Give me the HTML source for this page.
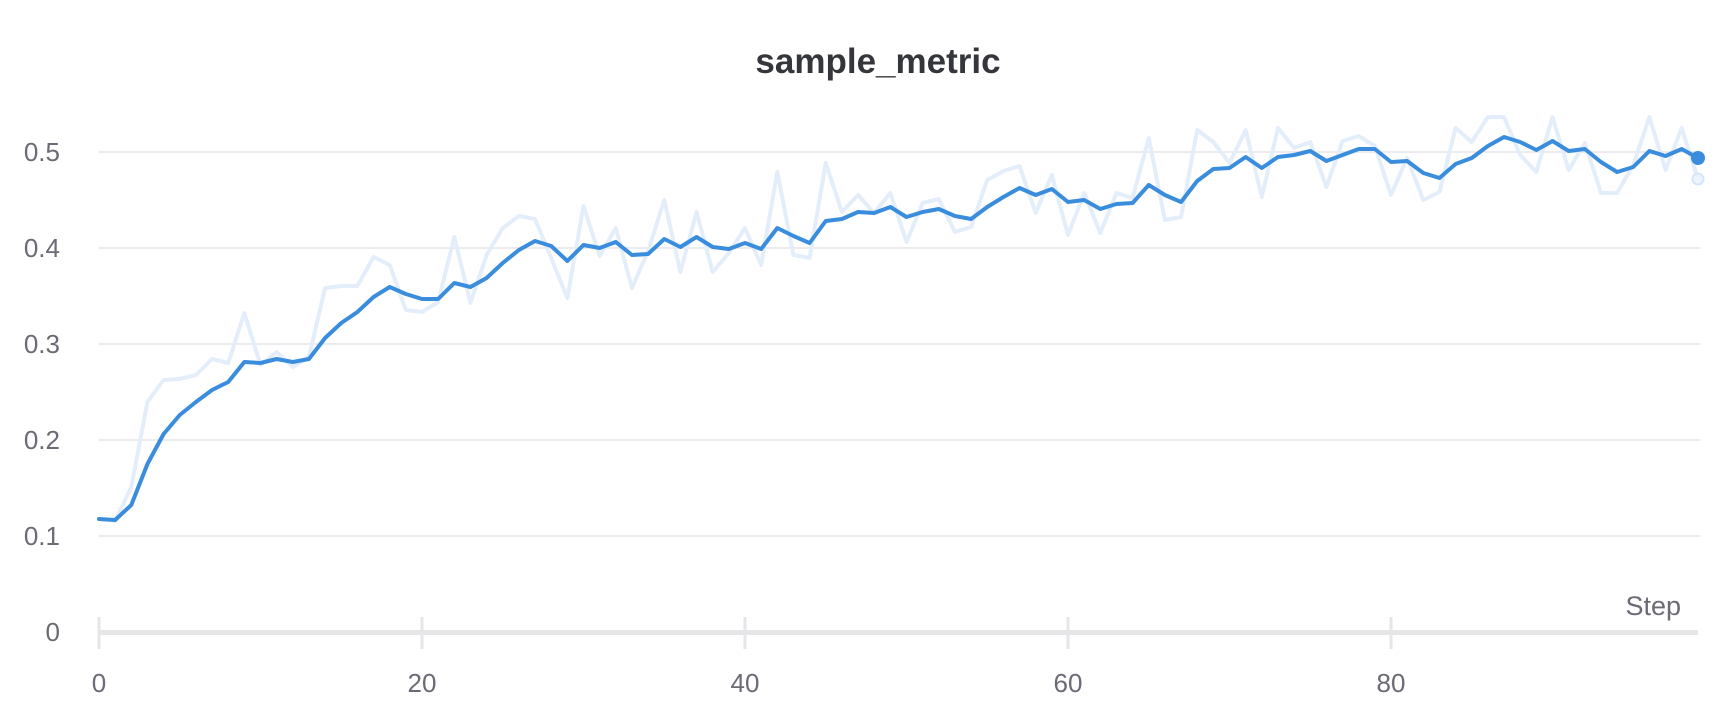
<!DOCTYPE html>
<html>
<head>
<meta charset="utf-8">
<style>
  html, body { margin:0; padding:0; background:#ffffff; }
  body { width:1724px; height:722px; overflow:hidden; }
  svg { display:block; }
  text { font-family: "Liberation Sans", "DejaVu Sans", sans-serif; }
</style>
</head>
<body>
<svg width="1724" height="722" viewBox="0 0 1724 722" xmlns="http://www.w3.org/2000/svg">
  <!-- title -->
  <text x="878" y="73" text-anchor="middle" font-size="35" font-weight="bold" fill="#35363b">sample_metric</text>

  <!-- gridlines -->
  <g stroke="#e5e5e8" stroke-width="1.5">
    <line x1="99" y1="152" x2="1700" y2="152"/>
    <line x1="99" y1="248" x2="1700" y2="248"/>
    <line x1="99" y1="344" x2="1700" y2="344"/>
    <line x1="99" y1="440" x2="1700" y2="440"/>
    <line x1="99" y1="536" x2="1700" y2="536"/>
  </g>

  <!-- x axis -->
  <line x1="99" y1="632.5" x2="1698" y2="632.5" stroke="#e6e6e9" stroke-width="5"/>
  <g stroke="#e6e6e9" stroke-width="3">
    <line x1="99" y1="617" x2="99" y2="649"/>
    <line x1="422" y1="617" x2="422" y2="649"/>
    <line x1="745" y1="617" x2="745" y2="649"/>
    <line x1="1068" y1="617" x2="1068" y2="649"/>
    <line x1="1391" y1="617" x2="1391" y2="649"/>
  </g>

  <!-- y labels -->
  <g font-size="26" fill="#6b6a75" text-anchor="end">
    <text x="60" y="161">0.5</text>
    <text x="60" y="257">0.4</text>
    <text x="60" y="353">0.3</text>
    <text x="60" y="449">0.2</text>
    <text x="60" y="545">0.1</text>
    <text x="60" y="641">0</text>
  </g>

  <!-- x labels -->
  <g font-size="26" fill="#6b6a75" text-anchor="middle">
    <text x="99" y="692">0</text>
    <text x="422" y="692">20</text>
    <text x="745" y="692">40</text>
    <text x="1068" y="692">60</text>
    <text x="1391" y="692">80</text>
  </g>
  <text x="1681" y="615" font-size="27" fill="#6b6a75" text-anchor="end">Step</text>

  <!-- series -->
  <g transform="translate(99,0) scale(16.15,1)">
    <polyline fill="none" stroke="#e4eefa" stroke-width="4" stroke-linejoin="round" stroke-linecap="round" vector-effect="non-scaling-stroke"
      points="0,519 1,521 2,487 3,402 4,380 5,379 6,375 7,359 8,363 9,313 10,365 11,352 12,367 13,357 14,288 15,286 16,286 17,257 18,265 19,310 20,312 21,302 22,237 23,303 24,255 25,228 26,216 27,219 28,258 29,298 30,206 31,256 32,228 33,288 34,251 35,200 36,272 37,212 38,272 39,253 40,228 41,265 42,172 43,255 44,258 45,163 46,212 47,195 48,213 49,193 50,242 51,203 52,199 53,232 54,227 55,180 56,171 57,166 58,213 59,175 60,235 61,193 62,233 63,193 64,198 65,138 66,220 67,217 68,130 69,142 70,163 71,130 72,197 73,128 74,148 75,142 76,187 77,141 78,136 79,146 80,195 81,158 82,200 83,192 84,128 85,142 86,117 87,117 88,155 89,172 90,117 91,170 92,143 93,193 94,193 95,165 96,117 97,170 98,128 99,179"/>
    <polyline fill="none" stroke="#3a8ddd" stroke-width="4" stroke-linejoin="round" stroke-linecap="round" vector-effect="non-scaling-stroke"
      points="0,519 1,520 2,505 3,464 4,434 5,415 6,402 7,390 8,382 9,362 10,363 11,359 12,362 13,359 14,338 15,323 16,312 17,297 18,287 19,294 20,299 21,299 22,283 23,287 24,278 25,263 26,250 27,241 28,246 29,261 30,245 31,248 32,242 33,255 34,254 35,239 36,247 37,237 38,247 39,249 40,243 41,249 42,228 43,236 44,243 45,221 46,219 47,212 48,213 49,207 50,217 51,212 52,209 53,216 54,219 55,207 56,197 57,188 58,195 59,189 60,202 61,200 62,209 63,204 64,203 65,185 66,195 67,202 68,181 69,169 70,168 71,157 72,168 73,157 74,155 75,151 76,161 77,155 78,149 79,149 80,162 81,161 82,173 83,178 84,164 85,158 86,146 87,137 88,142 89,150 90,141 91,151 92,149 93,162 94,172 95,167 96,151 97,156 98,149 99,158"/>
  </g>

  <!-- end dots -->
  <circle cx="1698" cy="179" r="5.5" fill="#eef4fc" stroke="#d6e6f8" stroke-width="2"/>
  <circle cx="1698" cy="158" r="7" fill="#3a8ddd"/>
</svg>
</body>
</html>
